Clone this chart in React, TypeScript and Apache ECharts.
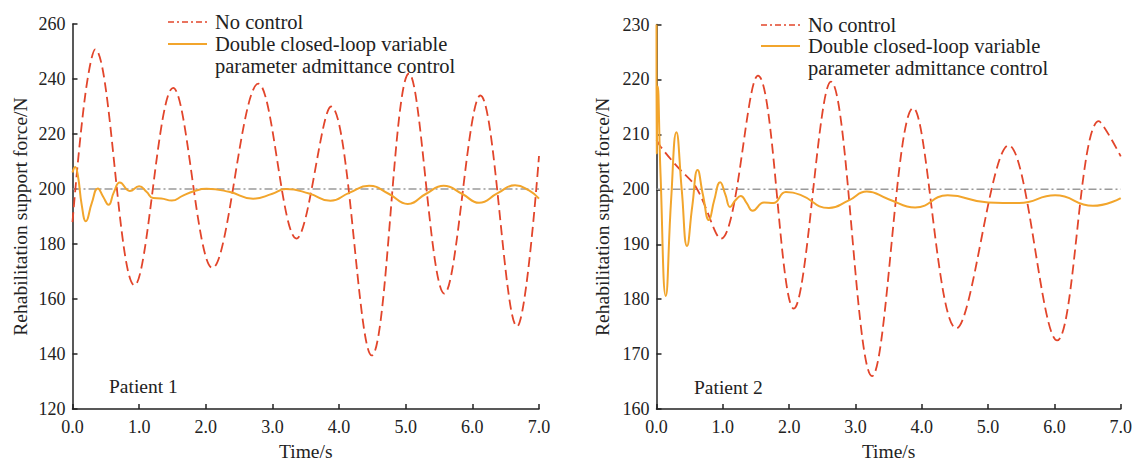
import React, { useEffect, useRef } from "react";
import * as echarts from "echarts";

// Patient 1 – time (s), force (N): turning points
const p1NoControl: [number, number][] = [
  [0, 188], [0.19, 234], [0.34, 250.8], [0.93, 165], [1.51, 236.8], [2.1, 171.3],
  [2.79, 238.3], [3.36, 182], [3.88, 230], [4.49, 139.5], [5.05, 242], [5.58, 162],
  [6.12, 234], [6.67, 150], [7.0, 212],
];
const p1Control: [number, number][] = [
  [0, 206], [0.04, 208], [0.08, 205], [0.14, 194], [0.2, 188.3], [0.29, 195],
  [0.38, 200.2], [0.46, 197.2], [0.54, 194.3], [0.62, 198.8], [0.71, 202.4], [0.86, 199.3],
  [1.0, 201], [1.11, 199], [1.21, 196.7], [1.33, 196.6], [1.49, 195.8], [1.65, 197.5],
  [1.82, 199.2], [2.01, 200.1], [2.35, 199], [2.71, 196.5], [3.0, 198.3], [3.2, 200],
  [3.55, 198.4], [3.87, 195.7], [4.15, 198.6], [4.45, 201.2], [4.75, 198.2], [5.03, 194.6],
  [5.3, 198.2], [5.57, 201.2], [5.85, 198.2], [6.1, 195], [6.38, 198.5], [6.64, 201.4],
  [6.85, 199.5], [7.0, 196.5],
];

// Patient 2
const p2NoControl: [number, number][] = [
  [0, 209], [0.06, 207.8], [0.3, 204.3], [0.6, 200.3], [0.97, 191], [1.53, 220.7],
  [2.07, 178.3], [2.63, 219.6], [3.25, 166], [3.87, 214.8], [4.52, 174.7], [5.31, 208],
  [6.04, 172.5], [6.67, 212.4], [7.0, 206],
];
const p2Control: [number, number][] = [
  [0, 230], [0.005, 206.5], [0.02, 218.7], [0.06, 203], [0.14, 180.6], [0.22, 198],
  [0.3, 210.4], [0.38, 200], [0.46, 189.7], [0.54, 197], [0.62, 203.5], [0.7, 199],
  [0.79, 194.4], [0.87, 198], [0.96, 201.3], [1.04, 199], [1.11, 196.8], [1.19, 198],
  [1.27, 198.8], [1.36, 197.5], [1.45, 196.1], [1.62, 197.6], [1.76, 197.5], [1.95, 199.5],
  [2.17, 199], [2.6, 196.6], [2.9, 198], [3.17, 199.6], [3.5, 198.2], [3.9, 196.7],
  [4.39, 198.9], [5.0, 197.6], [5.47, 197.5], [6.01, 198.9], [6.58, 197], [7.0, 198.4],
];

const reference = 200;
const timeRange = [0, 7];
const p1YRange = [120, 260, 20];
const p2YRange = [160, 230, 10];

const legendNames = ["No control", "Double closed-loop variable\nparameter admittance control"];
const patientLabels = ["Patient 1", "Patient 2"];

const RED = "#e2452b";
const YELLOW = "#f2a52c";
const GRAY = "#9a9a9a";
const INK = "#222";
const FONT = "'Liberation Serif', 'Times New Roman', serif";

export default function App() {
  const ref = useRef<HTMLDivElement>(null);
  useEffect(() => {
    if (!ref.current) return;
    const chart = echarts.init(ref.current, null, { renderer: "svg" });
    const grids = [
      { left: 72.5, top: 24, width: 466.5, height: 396 },
      { left: 656.5, top: 24.5, width: 467.5, height: 396 },
    ];
    const yRanges = [p1YRange, p2YRange];
    const xAxis = grids.map((_, i) => ({
      type: "value",
      gridIndex: i,
      min: timeRange[0],
      max: timeRange[1],
      interval: 1,
      name: "Time/s",
      nameLocation: "middle",
      nameGap: 27,
      nameTextStyle: { fontFamily: FONT, fontSize: 19.5, color: INK },
      axisLine: { lineStyle: { color: INK, width: 1.5 } },
      axisTick: { inside: true, length: 5, lineStyle: { color: INK, width: 1.5 } },
      axisLabel: {
        fontFamily: FONT, fontSize: 18, color: INK, margin: 9,
        formatter: (v: number) => v.toFixed(1),
      },
      splitLine: { show: false },
    }));
    const yAxis = grids.map((_, i) => ({
      type: "value",
      gridIndex: i,
      min: yRanges[i][0],
      max: yRanges[i][1],
      interval: yRanges[i][2],
      name: "Rehabilitation support force/N",
      nameLocation: "middle",
      nameGap: i === 0 ? 42 : 44,
      nameTextStyle: { fontFamily: FONT, fontSize: 19.5, color: INK },
      axisLine: { show: true, lineStyle: { color: INK, width: 1.5 } },
      axisTick: { show: true, inside: true, length: 5, lineStyle: { color: INK, width: 1.5 } },
      axisLabel: { fontFamily: FONT, fontSize: 18, color: INK, margin: 7 },
      splitLine: { show: false },
    }));
    const data = [
      [p1NoControl, p1Control],
      [p2NoControl, p2Control],
    ];
    const series: any[] = [];
    data.forEach((pair, i) => {
      series.push({
        type: "line",
        xAxisIndex: i,
        yAxisIndex: i,
        data: [[timeRange[0], reference], [timeRange[1], reference]],
        showSymbol: false,
        lineStyle: { color: GRAY, width: 1.5, type: [8, 3, 2, 3] },
        silent: true,
      });
      series.push({
        type: "line",
        name: legendNames[0],
        xAxisIndex: i,
        yAxisIndex: i,
        data: pair[0],
        smooth: 0.36,
        showSymbol: false,
        clip: true,
        lineStyle: { color: RED, width: 1.8, type: [10, 5] },
      });
      series.push({
        type: "line",
        name: legendNames[1],
        xAxisIndex: i,
        yAxisIndex: i,
        data: pair[1],
        smooth: 0.5,
        showSymbol: false,
        clip: true,
        lineStyle: { color: YELLOW, width: 2 },
      });
    });

    const legendPos = [
      { lx: 168, tx: 215, y0: 22, y1: 44 },
      { lx: 761, tx: 808, y0: 25, y1: 46 },
    ];
    const graphic: any[] = [];
    legendPos.forEach((p) => {
      graphic.push({
        type: "line",
        shape: { x1: p.lx, y1: p.y0, x2: p.lx + 39, y2: p.y0 },
        style: { stroke: RED, lineWidth: 1.6, lineDash: [6, 3, 2, 3] },
      });
      graphic.push({
        type: "line",
        shape: { x1: p.lx, y1: p.y1, x2: p.lx + 39, y2: p.y1 },
        style: { stroke: YELLOW, lineWidth: 2 },
      });
      graphic.push({
        type: "text",
        x: p.tx,
        y: p.y0,
        style: { text: legendNames[0], fontFamily: FONT, fontSize: 20.5, fill: INK, verticalAlign: "middle" },
      });
      graphic.push({
        type: "text",
        x: p.tx,
        y: p.y1 - 11.5,
        style: { text: legendNames[1], fontFamily: FONT, fontSize: 20.5, lineHeight: 22.5, fill: INK, verticalAlign: "top" },
      });
    });
    const patientPos = [
      { x: 109, y: 386 },
      { x: 694, y: 387 },
    ];
    patientPos.forEach((p, i) => {
      graphic.push({
        type: "text",
        x: p.x,
        y: p.y,
        style: { text: patientLabels[i], fontFamily: FONT, fontSize: 19.5, fill: INK, verticalAlign: "middle" },
      });
    });

    chart.setOption({
      animation: false,
      backgroundColor: "#fff",
      grid: grids,
      xAxis,
      yAxis,
      series,
      graphic,
    });
    return () => chart.dispose();
  }, []);
  return (
    <div
      ref={ref}
      style={{ position: "absolute", left: 0, top: 0, width: 1135, height: 466 }}
    />
  );
}
